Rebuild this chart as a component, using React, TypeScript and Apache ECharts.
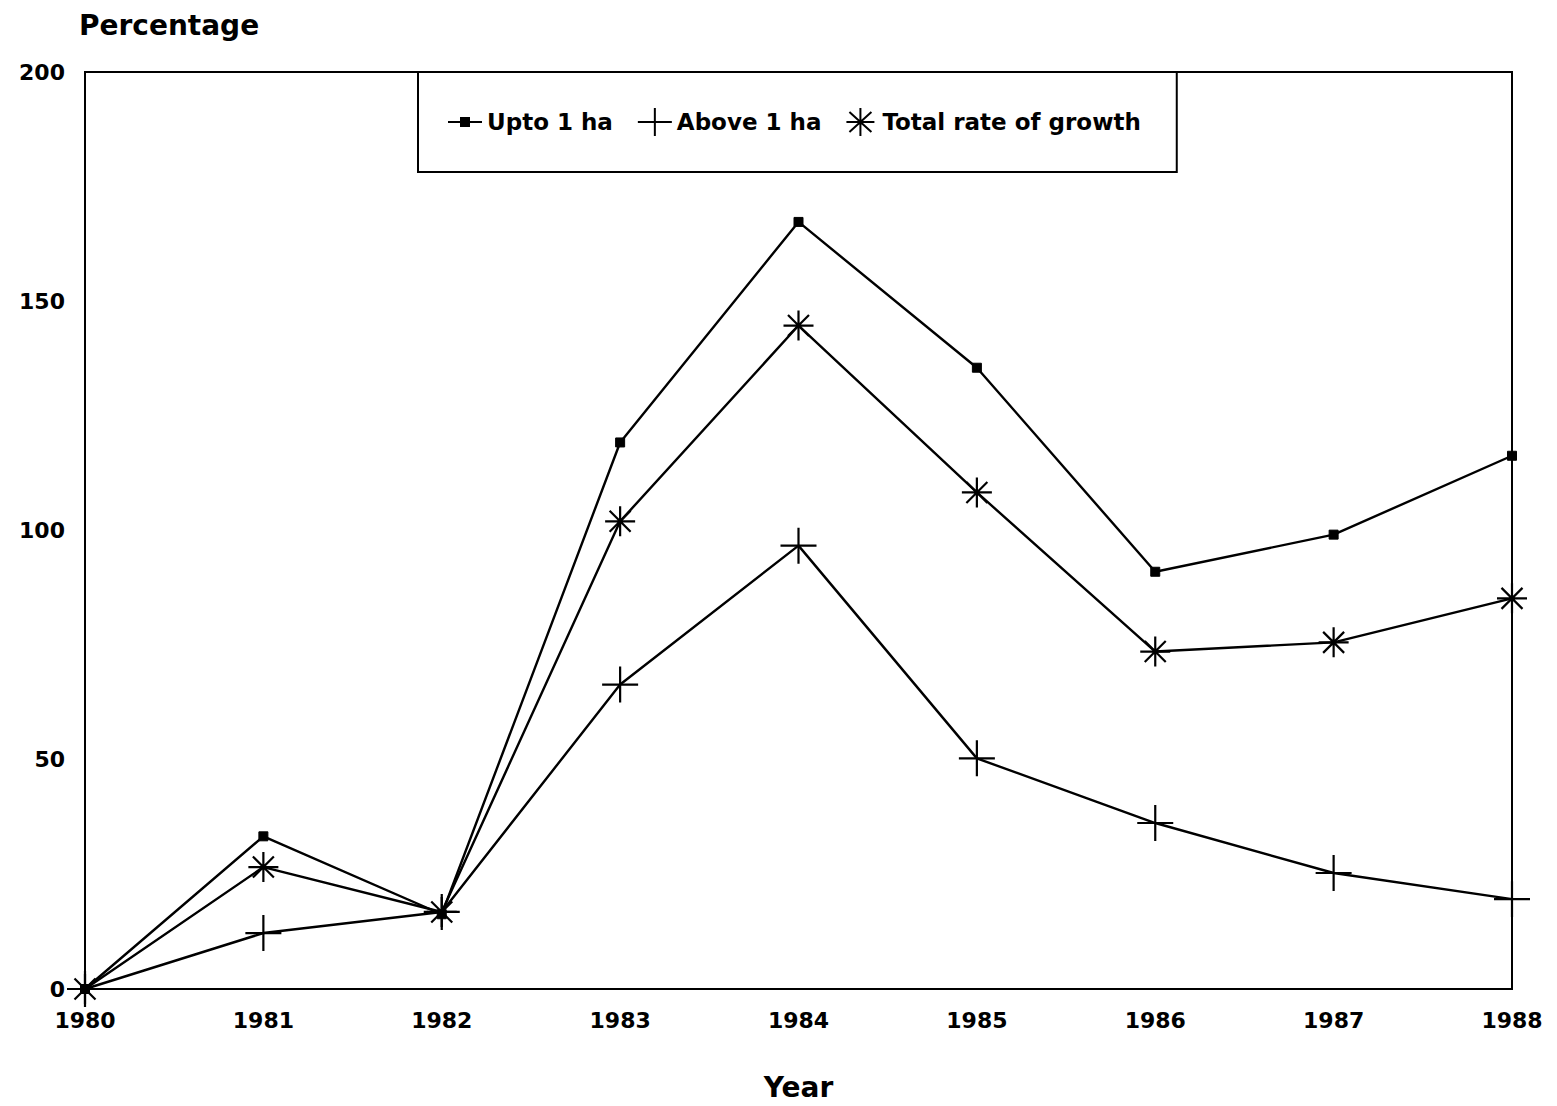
import React, { useEffect, useRef } from "react";
import * as echarts from "echarts";

const years = ["1980", "1981", "1982", "1983", "1984", "1985", "1986", "1987", "1988"];
const uptoOneHa = [0, 33.3, 16.3, 119.2, 167.3, 135.5, 91.0, 99.1, 116.3];
const aboveOneHa = [0, 12.2, 16.8, 66.4, 96.7, 50.3, 36.2, 25.3, 19.6];
const totalGrowth = [0, 26.6, 16.8, 102.0, 144.7, 108.3, 73.6, 75.6, 85.2];
const seriesNames = ["Upto 1 ha", "Above 1 ha", "Total rate of growth"];

const FONT = "'DejaVu Sans', Arial, sans-serif";
const PLUS = "path://M0,-10L0,10M-10,0L10,0";
const STAR = "path://M0,-10L0,10M-10,0L10,0M-7,-7L7,7M-7,7L7,-7";
const LEG_UPTO = "path://M0,14L34,14M13,10L21,10L21,18L13,18Z";
const LEG_PLUS = "path://M0,14L34,14M17,0L17,28";
const LEG_STAR = "path://M16,0L16,28M2,14L30,14M5,4L27,24M5,24L27,4";

export default function App() {
  const ref = useRef<HTMLDivElement>(null);
  useEffect(() => {
    if (!ref.current) return;
    const chart = echarts.init(ref.current, undefined, { renderer: "svg" });
    const lineStyle = { color: "#000", width: 2.4 };
    const legItemStyle = { color: "#000", borderColor: "#000", borderWidth: 2 };
    chart.setOption({
      animation: false,
      backgroundColor: "#fff",
      title: {
        text: "Percentage",
        left: 74,
        top: 6,
        textStyle: { fontFamily: FONT, fontWeight: "bold", fontSize: 28, color: "#000" },
      },
      legend: {
        left: 418,
        top: 72,
        padding: [35, 36, 35, 29],
        borderColor: "#000",
        borderWidth: 2,
        backgroundColor: "#fff",
        itemWidth: 34,
        itemHeight: 28,
        itemGap: 24,
        data: [
          { name: seriesNames[0], icon: LEG_UPTO, itemStyle: legItemStyle },
          { name: seriesNames[1], icon: LEG_PLUS, itemStyle: legItemStyle },
          { name: seriesNames[2], icon: LEG_STAR, itemStyle: legItemStyle },
        ],
        textStyle: { fontFamily: FONT, fontWeight: "bold", fontSize: 23, color: "#000" },
      },
      grid: { left: 85, right: 45, top: 72, bottom: 116, show: true, borderColor: "#000", borderWidth: 2 },
      xAxis: {
        type: "category",
        data: years,
        boundaryGap: false,
        name: "Year",
        nameLocation: "middle",
        nameGap: 84,
        nameTextStyle: { fontFamily: FONT, fontWeight: "bold", fontSize: 28, color: "#000" },
        axisLine: { lineStyle: { color: "#000", width: 2 } },
        axisTick: { show: false },
        axisLabel: { margin: 20, fontFamily: FONT, fontWeight: "bold", fontSize: 22, color: "#000" },
        splitLine: { show: false },
      },
      yAxis: {
        type: "value",
        min: 0,
        max: 200,
        interval: 50,
        axisLine: { show: true, lineStyle: { color: "#000", width: 2 } },
        axisTick: { show: false },
        axisLabel: { margin: 20, fontFamily: FONT, fontWeight: "bold", fontSize: 22, color: "#000" },
        splitLine: { show: false },
      },
      series: [
        {
          name: seriesNames[0],
          type: "line",
          data: uptoOneHa,
          symbol: "rect",
          symbolSize: 9,
          lineStyle,
          itemStyle: { color: "#000", borderColor: "#000", borderWidth: 1 },
        },
        {
          name: seriesNames[1],
          type: "line",
          data: aboveOneHa,
          symbol: PLUS,
          symbolSize: 36,
          lineStyle,
          itemStyle: { color: "#000", borderColor: "#000", borderWidth: 2.2 },
        },
        {
          name: seriesNames[2],
          type: "line",
          data: totalGrowth,
          symbol: STAR,
          symbolSize: 30,
          lineStyle,
          itemStyle: { color: "#000", borderColor: "#000", borderWidth: 2.2 },
        },
      ],
    });
    return () => chart.dispose();
  }, []);
  return (
    <div
      ref={ref}
      style={{ position: "fixed", left: 0, top: 0, width: 1557, height: 1106, background: "#fff" }}
    />
  );
}
